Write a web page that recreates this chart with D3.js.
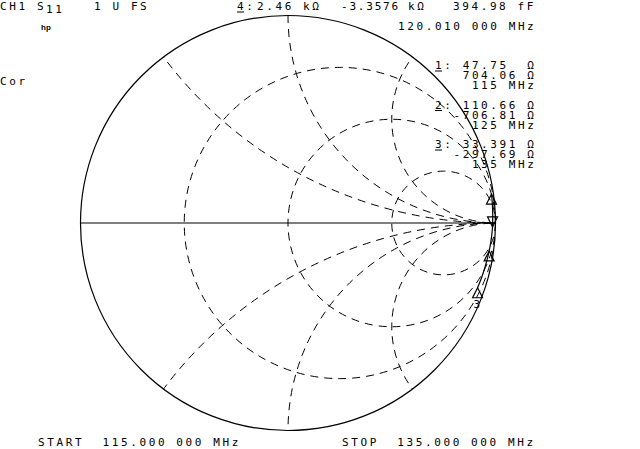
<!DOCTYPE html>
<html>
<head>
<meta charset="utf-8">
<script src="https://cdn.jsdelivr.net/npm/d3@7"></script>
<style>
  body { margin: 0; background: #fff; }
  text { font-family: "DejaVu Sans Mono", monospace; font-size: 11px; letter-spacing: 2.6px; white-space: pre; fill: #000; }
</style>
</head>
<body>
<div id="chart"></div>
<script>
// SMITH CHART  (S11, 1 U full scale)

var rCircles = [1 / 3, 1, 3];          // constant resistance circles
var xArcs = [0.5, 1, 2, -0.5, -1, -2]; // constant reactance arcs
var z0 = 50;

// trace, impedance in ohms (estimated between the marker readouts)
var traceMHz = [115, 116, 117, 118, 119, 119.5, 120.01, 121, 122, 123, 124, 125, 127, 129, 131, 133, 135];
var traceR   = [47.75, 88, 190, 573, 3844, 6965, 2460, 749, 354, 215, 147, 110.66, 76, 57.5, 45.2, 37.7, 32.391];
var traceX   = [704.06, 909, 1271, 2064, 3757, -1525, -3357.6, -2052, -1404, -1056, -844, -706.81, -551, -453, -385, -336, -297.69];

// markers
var markerNum = [1, 2, 3, 4];
var markerMHz = [115, 125, 135, 120.01];
var markerR   = [47.75, 110.66, 32.391, 2460];
var markerX   = [704.06, -706.81, -297.69, -3357.6];
var markerRe  = ["47.75", "110.66", "33.391"];   // readout strings
var markerIm  = ["704.06", "-706.81", "-297.69"];
var activeMarker = 4;

var width = 640, height = 449;
var cx = 288, cy = 223, R = 207.5;

var svg = d3.select("#chart").append("svg")
    .attr("width", width)
    .attr("height", height);

var gx = d3.scaleLinear().domain([-1, 1]).range([cx - R, cx + R]);
var gy = d3.scaleLinear().domain([-1, 1]).range([cy + R, cy - R]);

function gamma(r, x) { // normalized z -> reflection coefficient
  var a = r - 1, b = x, c = r + 1, d = x;
  var den = c * c + d * d;
  return [(a * c + b * d) / den, (b * c - a * d) / den];
}

svg.append("clipPath").attr("id", "unit")
  .append("circle").attr("cx", cx).attr("cy", cy).attr("r", R);

var grid = svg.append("g")
    .attr("clip-path", "url(#unit)")
    .attr("fill", "none")
    .attr("stroke", "#000")
    .attr("stroke-width", 1)
    .attr("stroke-dasharray", "8,6");

grid.selectAll(".rc")
    .data(rCircles)
  .enter().append("circle")
    .attr("class", "rc")
    .attr("cx", function(r) { return gx(r / (1 + r)); })
    .attr("cy", gy(0))
    .attr("r", function(r) { return gx(1 / (1 + r)) - gx(0); });

grid.selectAll(".xa")
    .data(xArcs)
  .enter().append("circle")
    .attr("class", "xa")
    .attr("cx", gx(1))
    .attr("cy", function(x) { return gy(1 / x); })
    .attr("r", function(x) { return gx(1 / Math.abs(x)) - gx(0); });

// outer circle and real axis
svg.append("circle")
    .attr("cx", cx).attr("cy", cy).attr("r", R)
    .attr("fill", "none").attr("stroke", "#000").attr("stroke-width", 1.2);

svg.append("line")
    .attr("x1", gx(-1)).attr("x2", gx(1))
    .attr("y1", gy(0)).attr("y2", gy(0))
    .attr("stroke", "#000").attr("stroke-width", 1.2);

// trace
var pts = traceMHz.map(function(f, i) { return gamma(traceR[i] / z0, traceX[i] / z0); });
var line = d3.line()
    .x(function(d) { return gx(d[0]); })
    .y(function(d) { return gy(d[1]); })
    .curve(d3.curveCatmullRom);

svg.append("path")
    .datum(pts)
    .attr("d", line)
    .attr("fill", "none")
    .attr("stroke", "#000")
    .attr("stroke-width", 1.2);

// marker symbols
markerNum.forEach(function(n, i) {
  var g = gamma(markerR[i] / z0, markerX[i] / z0);
  var px = gx(g[0]), py = gy(g[1]);
  var tri = (n == activeMarker)
    ? [[px, py], [px - 5, py - 10], [px + 5, py - 10]]
    : [[px, py], [px - 5, py + 10], [px + 5, py + 10]];
  svg.append("path")
      .attr("d", d3.line()(tri) + "Z")
      .attr("fill", "none").attr("stroke", "#000").attr("stroke-width", 1.2);
  if (n == 3) {
    svg.append("text").attr("x", px - 4).attr("y", py + 20).text(n);
  }
});

// texts
function txt(x, y, s) {
  return svg.append("text").attr("x", x).attr("y", y).text(s);
}
function under(x, y) {
  svg.append("line").attr("x1", x).attr("x2", x + 7)
      .attr("y1", y + 2).attr("y2", y + 2)
      .attr("stroke", "#000").attr("stroke-width", 1);
}

txt(0, 10, "CH1 S");
txt(46, 13, "11");
txt(94, 10, "1 U FS");
txt(237, 10, "4:"); under(237, 10);
txt(257, 10, "2.46");
txt(303, 10, "k\u03a9");
txt(341, 10, "-3.3576").style("letter-spacing", "1.8px");
txt(408, 10, "k\u03a9");
txt(453, 10, "394.98 fF");
txt(398, 30, "120.010 000 MHz");

svg.append("text").attr("x", 41).attr("y", 30)
    .style("font-family", "Liberation Sans, sans-serif")
    .style("font-size", "8px").style("font-weight", "bold")
    .style("letter-spacing", "0px")
    .text("hp");

txt(0, 85, "Cor");

// marker readouts, one block per marker
markerNum.slice(0, 3).forEach(function(n, i) {
  var y = 69 + i * 39.5;
  var re = markerRe[i], im = markerIm[i];
  var lines = [
    n + ": " + re + (re.length < 6 ? "  " : " ") + "\u03a9",
    (im.charAt(0) == "-" ? "  " : "   ") + im + " \u03a9",
    "    " + markerMHz[i] + " MHz"
  ];
  var t = svg.append("text").attr("x", 435).attr("y", y);
  lines.forEach(function(s, k) {
    t.append("tspan").attr("x", 435).attr("y", y + k * 10).text(s);
  });
  under(435, y);
});

txt(38, 446, "START  115.000 000 MHz");
txt(342, 446, "STOP  135.000 000 MHz");
</script>
</body>
</html>
